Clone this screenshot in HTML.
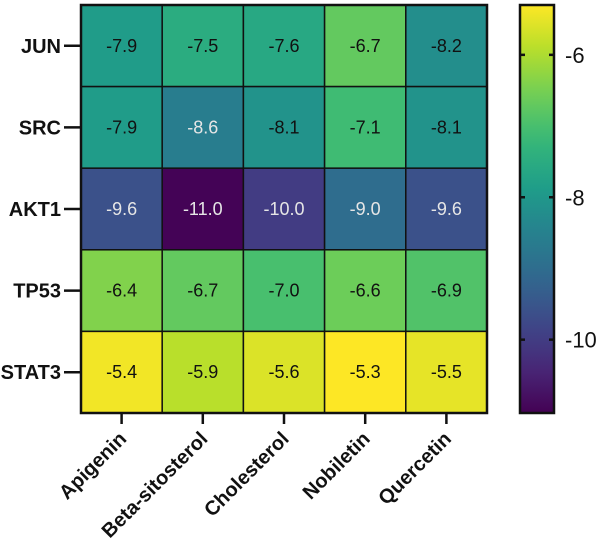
<!DOCTYPE html>
<html><head><meta charset="utf-8"><style>
html,body{margin:0;padding:0;background:#fff;}
svg{display:block;font-family:"Liberation Sans",Arial,sans-serif;}
</style></head><body>
<svg id="chart" width="600" height="546" viewBox="0 0 600 546">
<defs>
<linearGradient id="cbgrad" x1="0" y1="1" x2="0" y2="0"></linearGradient>
</defs>
<g id="cells"></g>
<g id="labels"></g>
<g id="cbar"></g>
</svg>
<script>
const rows = ["JUN","SRC","AKT1","TP53","STAT3"];
const cols = ["Apigenin","Beta-sitosterol","Cholesterol","Nobiletin","Quercetin"];
const valJUN = [-7.9,-7.5,-7.6,-6.7,-8.2];
const valSRC = [-7.9,-8.6,-8.1,-7.1,-8.1];
const valAKT1 = [-9.6,-11.0,-10.0,-9.0,-9.6];
const valTP53 = [-6.4,-6.7,-7.0,-6.6,-6.9];
const valSTAT3 = [-5.4,-5.9,-5.6,-5.3,-5.5];
const values = [valJUN,valSRC,valAKT1,valTP53,valSTAT3];
const cbTicks = [-6,-8,-10];
const vmin = -11.03, vmax = -5.3;

const NS="http://www.w3.org/2000/svg";
const L=81, R=487, T=5, B=413;
const cw=(R-L)/cols.length, ch=(B-T)/rows.length;
const xPos=i=>L+i*cw, yPos=j=>T+j*ch;
const vir=[[68,1,84],[72,40,120],[62,73,137],[49,104,142],[38,130,142],[31,158,137],[53,183,121],[110,206,88],[181,222,43],[253,231,37]];
function color(v){let t=(v-vmin)/(vmax-vmin);t=Math.max(0,Math.min(1,t));const s=t*(vir.length-1);const i=Math.min(vir.length-2,Math.floor(s));const f=s-i;const c=vir[i].map((a,k)=>Math.round(a+(vir[i+1][k]-a)*f));return `rgb(${c.join(",")})`;}
function mk(tag,attrs,parent){const e=document.createElementNS(NS,tag);for(const k in attrs)e.setAttribute(k,attrs[k]);parent.appendChild(e);return e;}
const cells=document.getElementById('cells');
values.forEach((row,j)=>row.forEach((v,i)=>{
  const r=mk('rect',{x:xPos(i),y:yPos(j),width:cw,height:ch,fill:color(v),stroke:'#111','stroke-width':1.5},cells);
  
  
  const t=mk('text',{x:xPos(i)+cw/2,y:yPos(j)+ch/2+6,'text-anchor':'middle','font-size':18,fill:v<-8.5?'#e6e6e6':'#111'},cells);
  t.textContent=v.toFixed(1);
  
  
}));
mk('rect',{x:L,y:T,width:R-L,height:B-T,fill:'none',stroke:'#111','stroke-width':2.5},cells);
const lab=document.getElementById('labels');
rows.forEach((r,j)=>{
  const cy=yPos(j)+ch/2;
  mk('line',{x1:L-17,x2:L,y1:cy,y2:cy,stroke:'#111','stroke-width':2.5},lab);
  const t=mk('text',{x:L-20,y:cy+7,'text-anchor':'end','font-size':20,'font-weight':'bold',fill:'#111'},lab);
  t.textContent=r;
  
  
});
cols.forEach((c,i)=>{
  const cx=xPos(i)+cw/2;
  mk('line',{x1:cx,x2:cx,y1:B,y2:B+11,stroke:'#111','stroke-width':2.5},lab);
  const t=mk('text',{x:cx+6,y:B+27,'text-anchor':'end','font-size':20,'font-weight':'bold',fill:'#111',transform:`rotate(-45 ${cx+6} ${B+27})`},lab);
  t.textContent=c;
  
  
});
const grad=document.getElementById('cbgrad');
for(let k=0;k<=20;k++){const v=vmin+(vmax-vmin)*k/20;mk('stop',{offset:(k/20),'stop-color':color(v)},grad);}
const cb=document.getElementById('cbar');
const CL=520, CR=554, CT=5, CB=413;
const cbY=v=>CB-(v-vmin)/(vmax-vmin)*(CB-CT);
const cr=mk('rect',{x:CL,y:CT,width:CR-CL,height:CB-CT,fill:'url(#cbgrad)',stroke:'#111','stroke-width':2.5},cb);


cbTicks.forEach(v=>{
  const y=cbY(v);
  mk('line',{x1:CL,x2:CL+5,y1:y,y2:y,stroke:'#111','stroke-width':2.5},cb);
  mk('line',{x1:CR-5,x2:CR,y1:y,y2:y,stroke:'#111','stroke-width':2.5},cb);
  const t=mk('text',{x:CR+11,y:y+8,'font-size':22,fill:'#111'},cb);
  t.textContent=String(v);
  
  
});
</script>
</body></html>
